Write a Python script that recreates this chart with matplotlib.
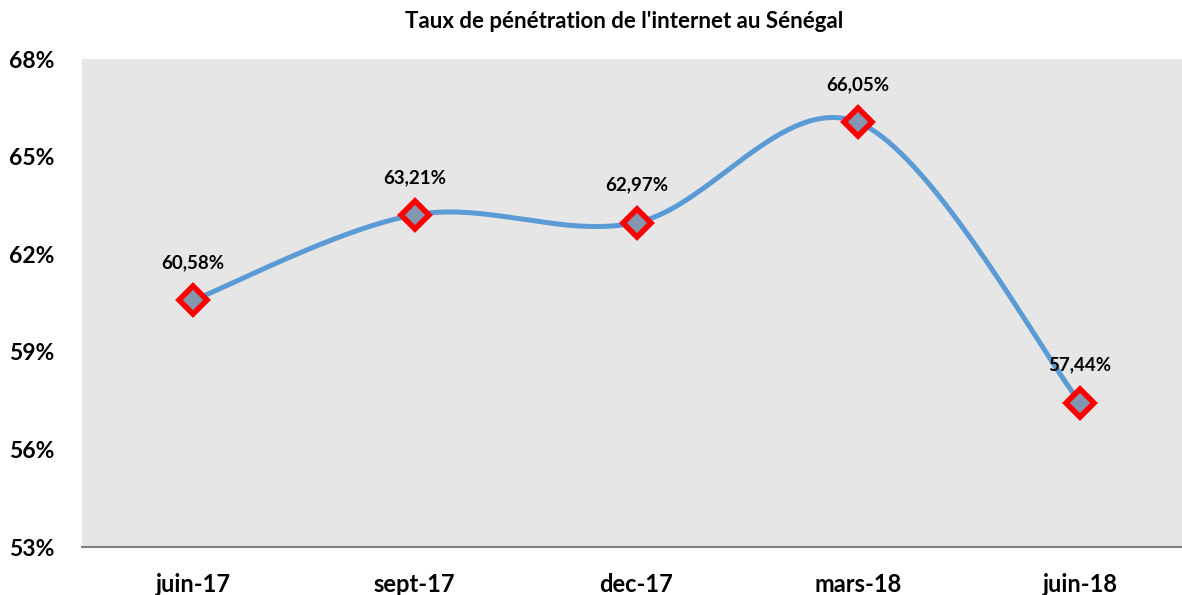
import matplotlib.pyplot as plt
import numpy as np

plt.rcParams['font.family'] = ['Lato', 'DejaVu Sans']
plt.rcParams['font.weight'] = 'bold'

periodes = ['juin-17', 'sept-17', 'dec-17', 'mars-18', 'juin-18']
taux = [60.58, 63.21, 62.97, 66.05, 57.44]
etiquettes = ['60,58%', '63,21%', '62,97%', '66,05%', '57,44%']
yticks = [53, 56, 59, 62, 65, 68]


# courbe lissee facon Excel (Catmull-Rom)
def lisser(x, y, n=40):
    x = np.asarray(x, float)
    y = np.asarray(y, float)
    px = np.concatenate([[x[0]], x, [x[-1]]])
    py = np.concatenate([[y[0]], y, [y[-1]]])
    xs, ys = [], []
    t = np.linspace(0, 1, n)
    for i in range(1, len(px) - 2):
        p0, p1, p2, p3 = px[i - 1], px[i], px[i + 1], px[i + 2]
        q0, q1, q2, q3 = py[i - 1], py[i], py[i + 1], py[i + 2]
        c1x, c1y = p1 + (p2 - p0) / 6, q1 + (q2 - q0) / 6
        c2x, c2y = p2 - (p3 - p1) / 6, q2 - (q3 - q1) / 6
        bx = (1-t)**3*p1 + 3*(1-t)**2*t*c1x + 3*(1-t)*t**2*c2x + t**3*p2
        by = (1-t)**3*q1 + 3*(1-t)**2*t*c1y + 3*(1-t)*t**2*c2y + t**3*q2
        xs.extend(bx)
        ys.extend(by)
    return xs, ys


fig = plt.figure(figsize=(11.82, 5.95), dpi=100)
ax = fig.add_axes([82/1182, 48/595, 1109/1182, 488/595])
ax.set_facecolor('#e6e6e6')

x = np.arange(len(taux))
sx, sy = lisser(x, taux)
ax.plot(sx, sy, color='#5b9bd5', linewidth=3.6, solid_capstyle='round', zorder=2)
ax.plot(x, taux, linestyle='none', marker='D', markersize=14,
        markerfacecolor='#8497b0', markeredgecolor='#ff0000', markeredgewidth=4, zorder=3)

for xi, yi, lab in zip(x, taux, etiquettes):
    ax.annotate(lab, (xi, yi), xytext=(0, 27), textcoords='offset points',
                ha='center', va='center', fontsize=13.5, fontweight='bold')

ax.set_xlim(-0.5, 4.5)
ax.set_ylim(53, 68)
ax.set_xticks(x)
ax.set_xticklabels(periodes, fontsize=17, fontweight='bold')
ax.set_yticks(yticks)
ax.set_yticklabels([f'{v}%' for v in yticks], fontsize=16.5, fontweight='bold')
ax.tick_params(length=0)
ax.tick_params(axis='x', pad=19)
ax.tick_params(axis='y', pad=20)
for s in ['top', 'right', 'left']:
    ax.spines[s].set_visible(False)
ax.spines['bottom'].set_color('#808080')
ax.spines['bottom'].set_linewidth(1.5)

fig.text(624/1182, 1 - 22/595, "Taux de pénétration de l'internet au Sénégal",
         ha='center', va='center', fontsize=16, fontweight='bold')

fig.savefig('out.png', dpi=100)
